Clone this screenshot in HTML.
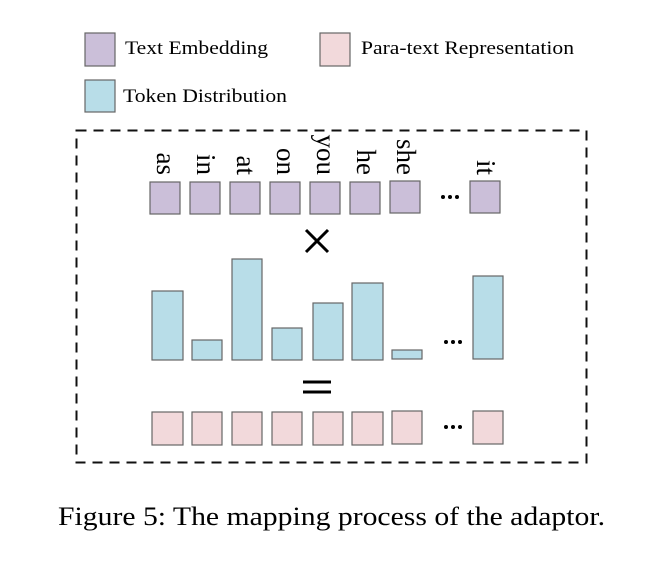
<!DOCTYPE html>
<html><head><style>
html,body{margin:0;padding:0;background:#fff;}
svg{display:block;}
text{font-family:"Liberation Serif",serif;fill:#000;}
</style></head><body>
<svg width="663" height="562" viewBox="0 0 663 562" xmlns="http://www.w3.org/2000/svg">
<g stroke="#666" stroke-width="1.2">
<rect x="85" y="33" width="30" height="33" fill="#cbbfd9"/>
<rect x="320" y="33" width="30" height="33" fill="#f2d9db"/>
<rect x="85" y="80" width="30" height="32" fill="#b8dde8"/>
</g>
<text x="125" y="54" font-size="19" textLength="143" lengthAdjust="spacingAndGlyphs">Text Embedding</text>
<text x="361" y="54" font-size="19" textLength="213" lengthAdjust="spacingAndGlyphs">Para-text Representation</text>
<text x="123" y="102" font-size="19" textLength="164" lengthAdjust="spacingAndGlyphs">Token Distribution</text>

<rect x="76.5" y="130.5" width="510" height="332" fill="none" stroke="#111" stroke-width="2" stroke-dasharray="10,7"/>

<g font-size="27">
<text transform="translate(157,175) rotate(90)" text-anchor="end">as</text>
<text transform="translate(197,175) rotate(90)" text-anchor="end">in</text>
<text transform="translate(237,175) rotate(90)" text-anchor="end">at</text>
<text transform="translate(277,175) rotate(90)" text-anchor="end">on</text>
<text transform="translate(317,175) rotate(90)" text-anchor="end">you</text>
<text transform="translate(357,175) rotate(90)" text-anchor="end">he</text>
<text transform="translate(397,175) rotate(90)" text-anchor="end">she</text>
<text transform="translate(477,175) rotate(90)" text-anchor="end">it</text>
</g>

<g stroke="#666" stroke-width="1.2" fill="#cbbfd9">
<rect x="150" y="182" width="30" height="32"/>
<rect x="190" y="182" width="30" height="32"/>
<rect x="230" y="182" width="30" height="32"/>
<rect x="270" y="182" width="30" height="32"/>
<rect x="310" y="182" width="30" height="32"/>
<rect x="350" y="182" width="30" height="32"/>
<rect x="390" y="181" width="30" height="32"/>
<rect x="470" y="181" width="30" height="32"/>
</g>
<g stroke="#666" stroke-width="1.2" fill="#b8dde8">
<rect x="152" y="291" width="31" height="69"/>
<rect x="192" y="340" width="30" height="20"/>
<rect x="232" y="259" width="30" height="101"/>
<rect x="272" y="328" width="30" height="32"/>
<rect x="313" y="303" width="30" height="57"/>
<rect x="352" y="283" width="31" height="77"/>
<rect x="392" y="350" width="30" height="9"/>
<rect x="473" y="276" width="30" height="83"/>
</g>
<g stroke="#666" stroke-width="1.2" fill="#f2d9db">
<rect x="152" y="412" width="31" height="33"/>
<rect x="192" y="412" width="30" height="33"/>
<rect x="232" y="412" width="30" height="33"/>
<rect x="272" y="412" width="30" height="33"/>
<rect x="313" y="412" width="30" height="33"/>
<rect x="352" y="412" width="31" height="33"/>
<rect x="392" y="411" width="30" height="33"/>
<rect x="473" y="411" width="30" height="33"/>
</g>
<g fill="#000">
<circle cx="443" cy="197" r="2"/><circle cx="450" cy="197" r="2"/><circle cx="457" cy="197" r="2"/>
<circle cx="446" cy="342" r="2"/><circle cx="453" cy="342" r="2"/><circle cx="460" cy="342" r="2"/>
<circle cx="446" cy="427" r="2"/><circle cx="453" cy="427" r="2"/><circle cx="460" cy="427" r="2"/>
</g>
<g stroke="#000" stroke-width="3">
<line x1="306" y1="230" x2="328" y2="252"/>
<line x1="328" y1="230" x2="306" y2="252"/>
<line x1="303" y1="382" x2="331" y2="382"/>
<line x1="303" y1="392" x2="331" y2="392"/>
</g>
<text x="58" y="525" font-size="26" textLength="547" lengthAdjust="spacingAndGlyphs">Figure 5: The mapping process of the adaptor.</text>
</svg>
</body></html>
